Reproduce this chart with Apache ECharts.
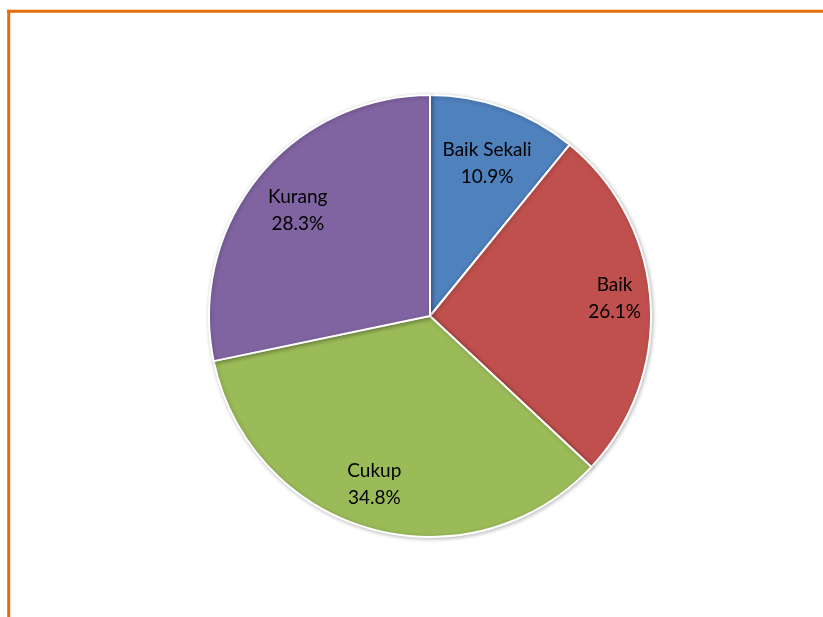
<!DOCTYPE html>
<html>
<head>
<meta charset="utf-8">
<script src="https://cdn.jsdelivr.net/npm/echarts@6/dist/echarts.min.js"></script>
<style>
  html, body { margin: 0; padding: 0; background: #fff; }
  #chart { width: 823px; height: 617px; }
</style>
</head>
<body>
<div id="chart"></div>
<script>
// Category names and their shares (%)
const categories = ['Baik Sekali', 'Baik', 'Cukup', 'Kurang'];
const shares = [10.9, 26.1, 34.8, 28.3];
const colors = ['#4F81BD', '#C0504D', '#9BBB59', '#8064A2'];
// small nudges so labels sit where they read best inside each slice
const labelOffsets = [[-1, 10], [12, -6], [-9, 2], [2, 4]];

const chart = echarts.init(document.getElementById('chart'));

const sliceData = categories.map((name, i) => ({
  name: name,
  value: shares[i],
  itemStyle: { color: colors[i] }
}));

const labelData = categories.map((name, i) => ({
  name: name,
  value: shares[i],
  label: { offset: labelOffsets[i] }
}));

chart.setOption({
  animation: false,
  graphic: [
    { type: 'line', shape: { x1: 7, y1: 11.3, x2: 823, y2: 11.3 }, style: { stroke: '#E36C0A', lineWidth: 3 } },
    { type: 'line', shape: { x1: 8.7, y1: 10, x2: 8.7, y2: 617 }, style: { stroke: '#E36C0A', lineWidth: 3 } }
  ],
  series: [
    {
      type: 'pie',
      center: [430, 316],
      radius: [0, 221],
      startAngle: 90,
      clockwise: true,
      silent: true,
      label: { show: false },
      labelLine: { show: false },
      itemStyle: {
        borderColor: '#ffffff',
        borderWidth: 2,
        shadowColor: 'rgba(0,0,0,0.25)',
        shadowBlur: 4,
        shadowOffsetX: 1,
        shadowOffsetY: 1
      },
      data: sliceData
    },
    {
      // transparent ring used only to place the labels
      type: 'pie',
      center: [430, 316],
      radius: [120, 220],
      startAngle: 90,
      clockwise: true,
      silent: true,
      itemStyle: { color: 'rgba(0,0,0,0)' },
      labelLine: { show: false },
      label: {
        show: true,
        position: 'inside',
        fontFamily: 'Lato',
        fontSize: 19,
        lineHeight: 27,
        color: '#000',
        formatter: p => p.name + '\n' + p.value.toFixed(1) + '%'
      },
      data: labelData
    }
  ]
});
</script>
</body>
</html>
